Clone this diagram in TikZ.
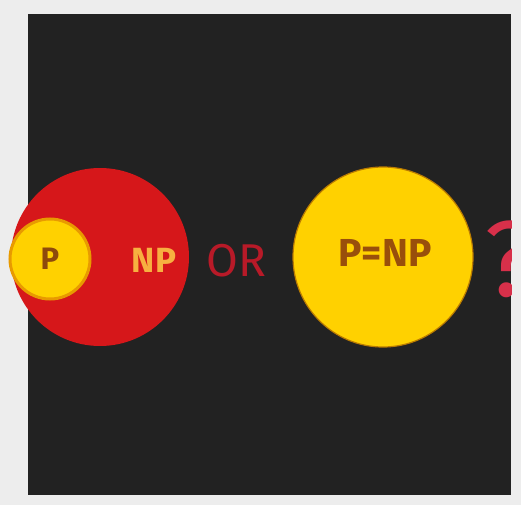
\documentclass[tikz,border=0pt]{standalone}
\usepackage{fontspec}
\setmainfont{Fira Sans}
\definecolor{framegray}{HTML}{EDEDED}
\definecolor{paneldark}{HTML}{222222}
\definecolor{npred}{HTML}{D6171A}
\definecolor{pyellow}{HTML}{FFD100}
\definecolor{pring}{HTML}{E89A00}
\definecolor{ptext}{HTML}{8E4A0C}
\definecolor{nptext}{HTML}{F7B040}
\definecolor{ortext}{HTML}{B81A28}
\definecolor{qred}{HTML}{D8304A}
\tikzset{
  setcircle/.style={circle, inner sep=0pt, outer sep=0pt},
  lbl/.style={inner sep=0pt, outer sep=0pt},
}
\begin{document}
\begin{tikzpicture}[x=1pt,y=-1pt]
\useasboundingbox (0,0) rectangle (521,505);
\fill[framegray] (0,0) rectangle (521,505);
\fill[paneldark] (28,14) rectangle (511,495);
% left: P inside NP
\node[setcircle, fill=npred, minimum size=178pt] (npset) at (100,257) {};
\node[setcircle, fill=pyellow, draw=pring, line width=3pt, minimum size=80pt] (pset) at (50,259) {};
\node[lbl, text=ptext, font=\bfseries\fontsize{31}{34}\selectfont] (plabel) at (pset.center) {P};
\node[lbl, text=nptext, font=\bfseries\fontsize{35}{38}\selectfont] (nplabel) at (154,260) {NP};
% OR
\node[lbl, text=ortext, font=\fontsize{46}{50}\selectfont] (orlabel) at (236,261) {OR};
% right: P=NP
\node[setcircle, fill=pyellow, draw=pring!80!black, line width=1.2pt, minimum size=180pt] (eqset) at (383,257) {};
\node[lbl, text=ptext!90!orange, font=\bfseries\fontsize{39}{42}\selectfont] (eqlabel) at (385,253) {P=NP};
% question mark clipped by panel edge
\begin{scope}
\clip (28,14) rectangle (511,495);
\node[lbl, text=qred, anchor=west, font=\fontsize{108}{110}\selectfont] (qmark) at (484,259) {?};
\end{scope}
\end{tikzpicture}
\end{document}
